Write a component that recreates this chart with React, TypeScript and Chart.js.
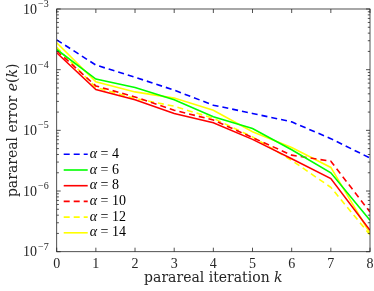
import React, { useEffect, useRef } from "react";
import { Chart, registerables } from "chart.js";
Chart.register(...registerables);

const iterations = [0, 1, 2, 3, 4, 5, 6, 7, 8];
const xTickLabels = ["0", "1", "2", "3", "4", "5", "6", "7", "8"];
const alphaLabels = ["4", "6", "8", "10", "12", "14"];
const err4 = [3.1e-4, 1.19e-4, 7.5e-5, 4.6e-5, 2.6e-5, 1.9e-5, 1.38e-5, 7.3e-6, 3.5e-6];
const err6 = [2.15e-4, 7.0e-5, 5.1e-5, 3.2e-5, 1.67e-5, 1.07e-5, 4.8e-6, 2.0e-6, 3.3e-7];
const err8 = [1.9e-4, 4.7e-5, 3.2e-5, 1.9e-5, 1.33e-5, 7.1e-6, 3.4e-6, 1.6e-6, 2.25e-7];
const err10 = [2.05e-4, 5.4e-5, 3.55e-5, 2.15e-5, 1.48e-5, 7.6e-6, 3.9e-6, 3.1e-6, 4.5e-7];
const err12 = [2.33e-4, 5.1e-5, 3.35e-5, 2.5e-5, 1.58e-5, 7.8e-6, 3.2e-6, 1.15e-6, 1.9e-7];
const err14 = [2.78e-4, 6.3e-5, 4.3e-5, 3.4e-5, 2.15e-5, 9.5e-6, 5.2e-6, 2.45e-6, 2.0e-7];
const yTickValues = [1e-7, 1e-6, 1e-5, 1e-4, 1e-3];
const yTickExponents = ["−7", "−6", "−5", "−4", "−3"];

const seriesValues = [err4, err6, err8, err10, err12, err14];
const seriesColors = ["#0000ff", "#00ff00", "#ff0000", "#ff0000", "#ffff00", "#ffff00"];
const seriesDashed = [true, false, false, true, true, false];

const FONT = "'Liberation Serif', serif";
const TFONT = "'DejaVu Serif', serif";
const AXIS = "#262626";

const decorPlugin = {
  id: "decor",
  afterDraw(chart: any) {
    const { ctx, chartArea: a, scales } = chart;
    const xs = scales.x;
    const ys = scales.y;
    ctx.save();
    // box
    ctx.strokeStyle = AXIS;
    ctx.lineWidth = 0.8;
    ctx.strokeRect(a.left, a.top, a.right - a.left, a.bottom - a.top);
    // x ticks
    ctx.beginPath();
    for (const v of iterations) {
      const px = xs.getPixelForValue(v);
      ctx.moveTo(px, a.bottom);
      ctx.lineTo(px, a.bottom - 4);
      ctx.moveTo(px, a.top);
      ctx.lineTo(px, a.top + 4);
    }
    // y ticks major + minor
    for (let e = -7; e <= -3; e++) {
      const base = Math.pow(10, e);
      const py = ys.getPixelForValue(base);
      ctx.moveTo(a.left, py);
      ctx.lineTo(a.left + 4, py);
      ctx.moveTo(a.right, py);
      ctx.lineTo(a.right - 4, py);
      if (e < -3) {
        for (let m = 2; m <= 9; m++) {
          const pm = ys.getPixelForValue(base * m);
          ctx.moveTo(a.left, pm);
          ctx.lineTo(a.left + 2.2, pm);
          ctx.moveTo(a.right, pm);
          ctx.lineTo(a.right - 2.2, pm);
        }
      }
    }
    ctx.stroke();

    // x tick labels
    ctx.fillStyle = AXIS;
    ctx.font = `14px ${FONT}`;
    ctx.textAlign = "center";
    ctx.textBaseline = "alphabetic";
    iterations.forEach((v, i) => {
      ctx.fillText(xTickLabels[i], xs.getPixelForValue(v), a.bottom + 16.6);
    });

    // y tick labels with superscripts
    yTickValues.forEach((v, i) => {
      const py = ys.getPixelForValue(v);
      ctx.font = `10px ${FONT}`;
      const ew = ctx.measureText(yTickExponents[i]).width + 1;
      const right = a.left - 8;
      ctx.textAlign = "left";
      ctx.textBaseline = "alphabetic";
      ctx.fillText(yTickExponents[i], right - ew + 1, py - 2);
      ctx.font = `14px ${FONT}`;
      ctx.textAlign = "right";
      ctx.fillText("10", right - ew, py + 4.5);
    });

    // axis titles
    ctx.fillStyle = AXIS;
    ctx.textBaseline = "alphabetic";
    const drawMixed = (parts: [string, boolean][], cx: number, cy: number, size: number) => {
      let total = 0;
      for (const [t, it] of parts) {
        ctx.font = `${it ? "italic " : ""}${size}px ${TFONT}`;
        total += ctx.measureText(t).width;
      }
      let x = cx - total / 2;
      ctx.textAlign = "left";
      for (const [t, it] of parts) {
        ctx.font = `${it ? "italic " : ""}${size}px ${TFONT}`;
        ctx.fillText(t, x, cy);
        x += ctx.measureText(t).width;
      }
    };
    drawMixed([["parareal iteration ", false], ["k", true]], (a.left + a.right) / 2, 281.5, 14);
    ctx.save();
    ctx.translate(17, (a.top + a.bottom) / 2);
    ctx.rotate(-Math.PI / 2);
    drawMixed([["parareal error ", false], ["e", true], ["(", false], ["k", true], [")", false]], 0, 0, 14);
    ctx.restore();

    // legend
    const x0 = a.left + 7;
    chart.data.datasets.forEach((ds: any, i: number) => {
      const y = a.bottom - 97.4 + i * 15.7;
      ctx.strokeStyle = ds.borderColor;
      ctx.lineWidth = 1.6;
      ctx.setLineDash(ds.borderDash || []);
      ctx.beginPath();
      ctx.moveTo(x0, y);
      ctx.lineTo(x0 + 24, y);
      ctx.stroke();
      ctx.setLineDash([]);
      ctx.fillStyle = "#000";
      ctx.textAlign = "left";
      ctx.textBaseline = "middle";
      ctx.font = `italic 14px ${FONT}`;
      let tx = x0 + 26;
      ctx.fillText("α", tx, y);
      tx += ctx.measureText("α").width;
      ctx.font = `14px ${FONT}`;
      ctx.fillText(" = " + alphaLabels[i], tx, y);
    });
    ctx.restore();
  },
};

export default function App() {
  const ref = useRef<HTMLCanvasElement>(null);
  useEffect(() => {
    if (!ref.current) return;
    const chart = new Chart(ref.current, {
      type: "line",
      data: {
        labels: iterations,
        datasets: seriesValues.map((vals, i) => ({
          label: "α = " + alphaLabels[i],
          data: vals.map((v, j) => ({ x: iterations[j], y: v })),
          borderColor: seriesColors[i],
          backgroundColor: seriesColors[i],
          borderWidth: 1.6,
          borderDash: seriesDashed[i] ? [6, 4] : [],
          pointRadius: 0,
          tension: 0,
          fill: false,
        })),
      },
      options: {
        animation: false,
        responsive: false,
        maintainAspectRatio: false,
        layout: { padding: { left: 0, right: 4, top: 9, bottom: 0 } },
        plugins: { legend: { display: false }, tooltip: { enabled: false } },
        scales: {
          x: {
            type: "linear",
            min: 0,
            max: 8,
            grid: { display: false },
            border: { display: false },
            ticks: { display: false, stepSize: 1 },
            afterFit: (s: any) => {
              s.height = 39.3;
            },
          },
          y: {
            type: "logarithmic",
            min: 1e-7,
            max: 1e-3,
            grid: { display: false },
            border: { display: false },
            afterBuildTicks: (s: any) => {
              s.ticks = yTickValues.map((v) => ({ value: v, major: true }));
            },
            ticks: { display: false },
            afterFit: (s: any) => {
              s.width = 56.7;
            },
          },
        },
      },
      plugins: [decorPlugin],
    });
    return () => chart.destroy();
  }, []);
  return (
    <div style={{ position: "fixed", left: 0, top: 0, width: 374, height: 291, background: "#fff" }}>
      <canvas ref={ref} width={374} height={291} style={{ width: 374, height: 291 }} />
    </div>
  );
}
